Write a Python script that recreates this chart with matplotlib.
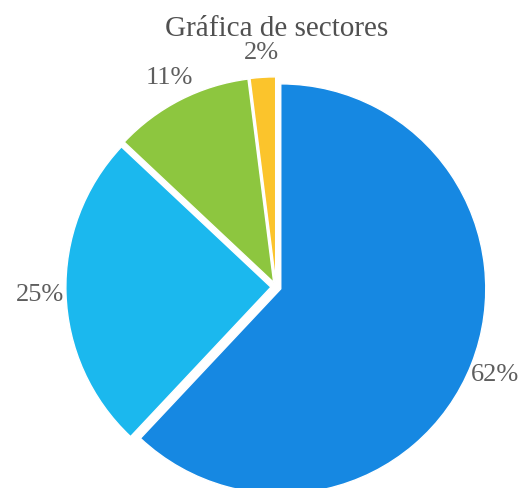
import matplotlib
matplotlib.use('Agg')
import matplotlib.pyplot as plt

# data
values = [62, 25, 11, 2]
colors = ['#1688e2', '#1bb8ee', '#8dc63f', '#fbc42c']
title = 'Gráfica de sectores'

plt.rcParams['font.family'] = ['Liberation Serif', 'DejaVu Serif']

fig = plt.figure(figsize=(5.25, 4.89), dpi=100)
ax = fig.add_axes([0, 0, 1, 1])

wedges, texts, autotexts = ax.pie(
    values, colors=colors, startangle=90, counterclock=False,
    explode=[0.025] * len(values), autopct='%.0f%%', pctdistance=1.125,
    wedgeprops=dict(edgecolor='white', linewidth=1),
    textprops=dict(color='#5e5e5e', fontsize=19))

# centre of the pie at about (276, 288) px, radius ~205 px
ax.set_aspect('auto')
ax.set_xlim(-276 / 205, 249 / 205)
ax.set_ylim(-201 / 205, 288 / 205)
ax.axis('off')

fig.text(277 / 525, 1 - 36 / 489, title, ha='center', va='baseline',
         fontsize=21, color='#505050')

fig.savefig('out.png', dpi=100, facecolor='white')
plt.close(fig)
